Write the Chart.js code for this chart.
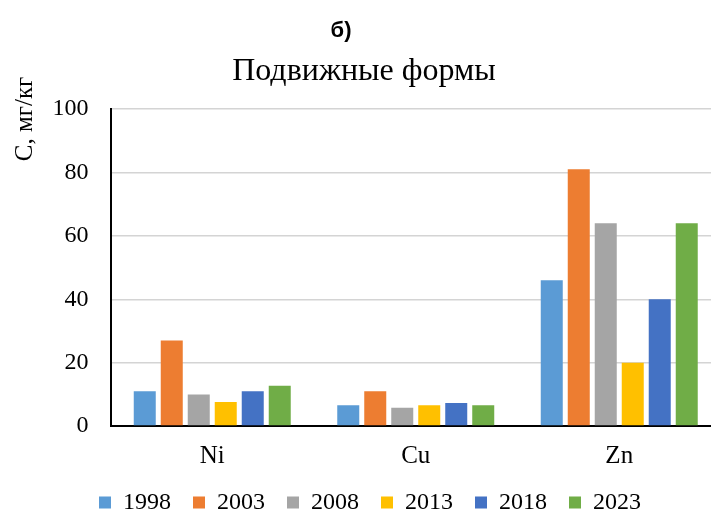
<!DOCTYPE html>
<html>
<head>
<meta charset="utf-8">
<script src="https://cdn.jsdelivr.net/npm/chart.js@4.4.1/dist/chart.umd.min.js"></script>
<style>
  html, body { margin: 0; padding: 0; background: #fff; overflow: hidden; }
  #wrap { position: relative; width: 721px; height: 540px; }
</style>
</head>
<body>
<div id="wrap"><canvas id="c"></canvas></div>
<script>
// Mobile forms of heavy metals, mg/kg, by sampling year
const elements = ['Ni', 'Cu', 'Zn'];
const years = ['1998', '2003', '2008', '2013', '2018', '2023'];
const v1998 = [11, 6.6, 46];
const v2003 = [27, 11, 81];
const v2008 = [10, 5.8, 64];
const v2013 = [7.6, 6.6, 20];
const v2018 = [11, 7.3, 40];
const v2023 = [12.7, 6.6, 64];
const yTicks = [0, 20, 40, 60, 80, 100];

const chartTitle = 'б)';
const chartSubtitle = 'Подвижные формы';
const yAxisTitle = 'С, мг/кг';

const seriesValues = [v1998, v2003, v2008, v2013, v2018, v2023];
const seriesColors = ['#5B9BD5', '#ED7D31', '#A5A5A5', '#FFC000', '#4472C4', '#70AD47'];

const SERIF = "'Liberation Serif', 'Times New Roman', serif";
const SANS = "'Liberation Sans', Arial, sans-serif";

// Headings and the rotated axis caption
const headings = {
  id: 'headings',
  afterDraw(chart) {
    const ctx = chart.ctx;
    ctx.save();
    ctx.fillStyle = '#000';
    ctx.textAlign = 'center';
    ctx.textBaseline = 'alphabetic';
    ctx.font = 'bold 22px ' + SANS;
    ctx.fillText(chartTitle, 341, 37);
    ctx.font = '32px ' + SERIF;
    ctx.fillText(chartSubtitle, 364, 80);
    ctx.translate(32, 119);
    ctx.rotate(-Math.PI / 2);
    ctx.font = '25px ' + SERIF;
    ctx.fillText(yAxisTitle, 0, 0);
    ctx.restore();
  }
};

new Chart(document.getElementById('c'), {
  type: 'bar',
  data: {
    labels: elements,
    datasets: years.map((y, i) => ({
      label: y,
      data: seriesValues[i],
      backgroundColor: seriesColors[i],
      borderWidth: 0,
      categoryPercentage: 0.796,
      barPercentage: 0.815
    }))
  },
  options: {
    responsive: true,
    maintainAspectRatio: false,
    animation: false,
    layout: { padding: { top: 109, left: 19, right: 0, bottom: 15.5 } },
    plugins: {
      title: { display: false },
      tooltip: { enabled: false },
      legend: {
        position: 'bottom',
        labels: {
          boxWidth: 12,
          boxHeight: 12,
          padding: 22,
          color: '#000',
          font: { family: SERIF, size: 24 }
        }
      }
    },
    scales: {
      x: {
        afterFit(scale) { scale.height = 42.4; },
        grid: { display: false, drawTicks: false },
        border: { display: true, color: '#000', width: 2 },
        ticks: {
          color: '#000',
          padding: 17,
          font: { family: SERIF, size: 25, lineHeight: 1.1 }
        }
      },
      y: {
        min: yTicks[0],
        max: yTicks[yTicks.length - 1],
        afterFit(scale) { scale.width = 91.5; },
        afterBuildTicks(scale) { scale.ticks = yTicks.map(v => ({ value: v })); },
        grid: { color: '#d4d4d4', lineWidth: 1.5, drawTicks: false },
        border: { display: true, color: '#000', width: 2 },
        ticks: {
          color: '#000',
          padding: 22,
          font: { family: SERIF, size: 24 }
        }
      }
    }
  },
  plugins: [headings]
});
</script>
</body>
</html>
